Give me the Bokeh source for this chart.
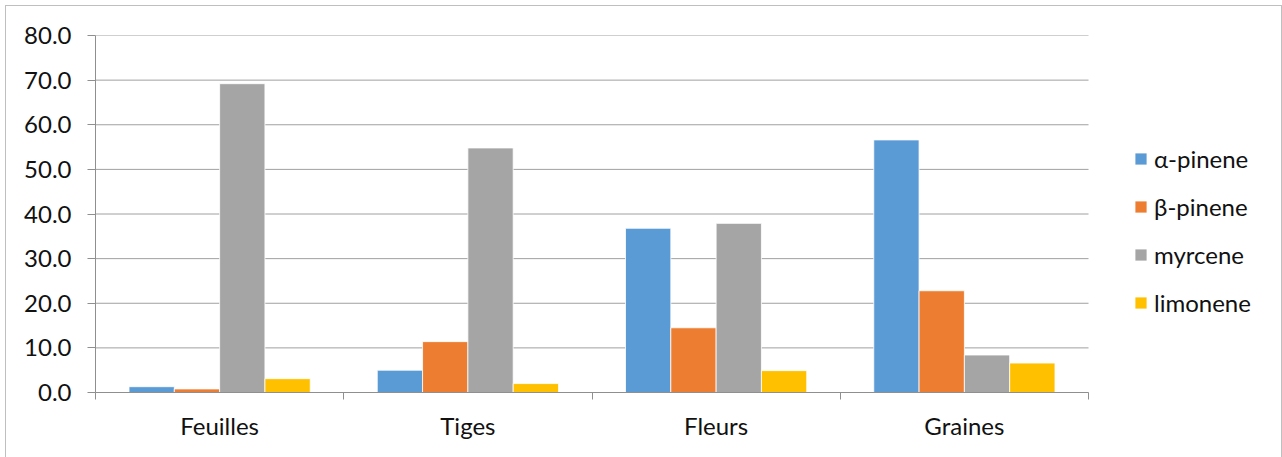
from bokeh.plotting import figure
from bokeh.models import Legend, LegendItem, FixedTicker, NumeralTickFormatter, Range1d
from bokeh.embed import file_html
from bokeh.resources import INLINE

# Monoterpene composition (%) of the essential oil by plant organ
categories = ["Feuilles", "Tiges", "Fleurs", "Graines"]
alpha_pinene = [1.3, 5.0, 36.8, 56.6]
beta_pinene = [0.8, 11.4, 14.5, 22.8]
myrcene = [69.2, 54.8, 37.9, 8.4]
limonene = [3.1, 2.0, 4.9, 6.6]

series_names = ["α-pinene", "β-pinene", "myrcene", "limonene"]
series_values = [alpha_pinene, beta_pinene, myrcene, limonene]
series_colors = ["#5B9BD5", "#ED7D31", "#A5A5A5", "#FFC000"]
y_ticks = [0, 10, 20, 30, 40, 50, 60, 70, 80]

FONT = "Lato"
FS = "24px"
TXT = "#111111"
GRID = "#a0a0a0"
AXIS = "#8f8f8f"
EDGE = "#bfbfbf"

n = len(categories)
# the frame runs on to the right edge so the legend has room beside the bars
x_end = n * (1282 - 95) / 993

p = figure(width=1282, height=457, x_range=Range1d(0, x_end),
           y_range=Range1d(0, 80), output_backend="svg", toolbar_location=None,
           min_border_left=95, min_border_right=0, min_border_top=35,
           min_border_bottom=65)
p.outline_line_color = None
p.background_fill_alpha = 0
p.border_fill_alpha = 0
# white chart area with a thin grey edge (left, top, right)
p.styles = {
    "background-color": "white",
    "background-image": f"linear-gradient({EDGE},{EDGE}), linear-gradient({EDGE},{EDGE}), "
                        f"linear-gradient({EDGE},{EDGE})",
    "background-size": "1px 460px, 1277px 1px, 1px 460px",
    "background-position": "5px 5px, 5px 5px, 1281px 5px",
    "background-repeat": "no-repeat",
}

# horizontal gridlines across the category span only
p.segment(x0=[0] * len(y_ticks), x1=[n] * len(y_ticks), y0=y_ticks, y1=y_ticks,
          line_color=GRID, line_width=1)

bar_w = 0.1825
renderers = []
for i, (name, vals, col) in enumerate(zip(series_names, series_values, series_colors)):
    off = (i - 1.5) * bar_w
    xs = [j + 0.5 + off for j in range(n)]
    r = p.vbar(x=xs, top=vals, width=bar_w, fill_color=col, line_color="white",
               line_width=0.8)
    renderers.append(r)

# y axis
p.yaxis.ticker = FixedTicker(ticks=y_ticks)
p.yaxis.formatter = NumeralTickFormatter(format="0.0")
p.yaxis.axis_line_color = AXIS
p.yaxis.major_tick_line_color = AXIS
p.yaxis.major_tick_out = 8
p.yaxis.major_tick_in = 0
p.yaxis.minor_tick_line_color = None
p.yaxis.major_label_standoff = 16
p.yaxis.major_label_text_font = FONT
p.yaxis.major_label_text_font_size = FS
p.yaxis.major_label_text_color = TXT

# x axis: labels at group centres, tick marks between groups
p.xaxis.bounds = (0, n)
p.xaxis.ticker = FixedTicker(ticks=[j + 0.5 for j in range(n)],
                             minor_ticks=list(range(n + 1)))
p.xaxis.major_label_overrides = {j + 0.5: c for j, c in enumerate(categories)}
p.xaxis.axis_line_color = AXIS
p.xaxis.major_tick_line_color = None
p.xaxis.major_tick_out = 0
p.xaxis.major_tick_in = 0
p.xaxis.minor_tick_line_color = AXIS
p.xaxis.minor_tick_out = 7
p.xaxis.minor_tick_in = 0
p.xaxis.major_label_standoff = 11
p.xaxis.major_label_text_font = FONT
p.xaxis.major_label_text_font_size = FS
p.xaxis.major_label_text_color = TXT

p.xgrid.grid_line_color = None
p.ygrid.grid_line_color = None

legend = Legend(items=[LegendItem(label=s, renderers=[r]) for s, r in zip(series_names, renderers)],
                location=(1038, 75), glyph_width=15, glyph_height=15,
                label_text_font=FONT, label_text_font_size=FS,
                label_text_color=TXT, label_height=29, spacing=19,
                border_line_color=None, background_fill_alpha=0,
                margin=0, padding=10, label_standoff=6)
p.add_layout(legend)

open("out.html", "w").write(file_html(p, INLINE))
